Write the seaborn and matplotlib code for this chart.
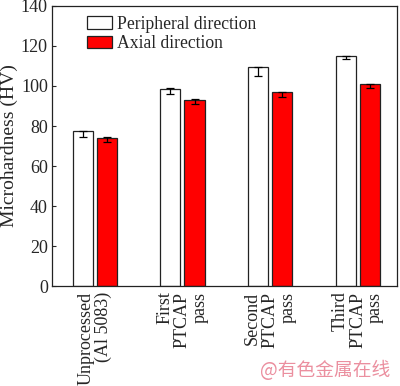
import matplotlib
matplotlib.use("Agg")
import matplotlib.pyplot as plt
import seaborn as sns
import pandas as pd

# data
stages = ["Unprocessed\n(Al 5083)", "First\nPTCAP\npass", "Second\nPTCAP\npass", "Third\nPTCAP\npass"]
series = ["Peripheral direction", "Axial direction"]
peripheral = [77.3, 98.5, 109.5, 115.0]
axial = [74.0, 93.2, 96.8, 100.8]
peripheral_err_low = [2.6, 2.7, 4.5, 1.3]
peripheral_err_high = [0.3, 0.3, 0.2, 0.2]
axial_err_low = [2.0, 2.4, 2.2, 1.6]
axial_err_high = [0.3, 0.4, 0.3, 0.3]

df = pd.DataFrame({
    "stage": stages * 2,
    "direction": [series[0]] * 4 + [series[1]] * 4,
    "hv": peripheral + axial,
})

sns.set_style("ticks")
plt.rcParams["font.family"] = ["Liberation Serif", "DejaVu Serif"]

fig = plt.figure(figsize=(4.0, 3.86), dpi=100)
ax = fig.add_axes([0.13, 0.259, 0.8625, 0.7255])

width = 0.55
ax = sns.barplot(data=df, x="stage", y="hv", hue="direction",
                 palette=["white", "#ff0000"], saturation=1, width=width, gap=0.165,
                 edgecolor="#222222", linewidth=0.9, errorbar=None, ax=ax)

for k, (vals, lo, hi) in enumerate([(peripheral, peripheral_err_low, peripheral_err_high),
                                    (axial, axial_err_low, axial_err_high)]):
    xs = [i + (k - 0.5) * width / 2 for i in range(len(stages))]
    ax.errorbar(xs, vals, yerr=[lo, hi], fmt="none", ecolor="black",
                elinewidth=0.9, capsize=3, capthick=0.9)

ax.set_xlim(-0.49, 3.45)
ax.set_ylim(0, 140)
ax.set_yticks(range(0, 141, 20))
ax.set_xlabel("")
ax.set_ylabel("Microhardness (HV)", fontsize=14, labelpad=2)
ax.tick_params(axis="y", direction="in", length=3, labelsize=13, pad=3)
ax.tick_params(axis="x", length=0, labelsize=13, pad=4)
for lab in ax.get_xticklabels():
    lab.set_rotation(90)
    lab.set_verticalalignment("top")
    lab.set_multialignment("right")
    lab.set_linespacing(1.05)
for s in ax.spines.values():
    s.set_linewidth(0.9)
    s.set_color("#222222")

ax.legend(loc="upper left", bbox_to_anchor=(0.1, 0.965), frameon=False,
          fontsize=12.7, handlelength=1.45, handleheight=0.7, handletextpad=0.3,
          labelspacing=0.15, borderpad=0, borderaxespad=0)

fig.text(0.975, 0.04, "@有色金属在线", color="#eb8f9f", fontsize=13.5,
         ha="right", va="center", family=["Noto Sans CJK SC", "DejaVu Sans"])

fig.savefig("out.png", dpi=100)
